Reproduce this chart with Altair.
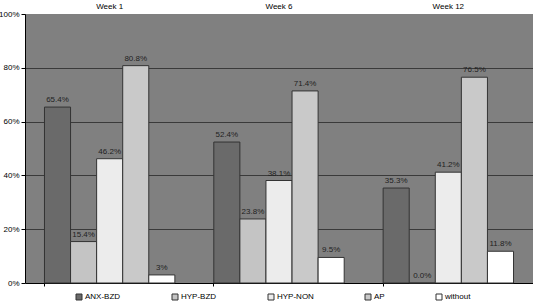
import altair as alt
import pandas as pd

weeks = ["Week 1", "Week 6", "Week 12"]
series = ["ANX-BZD", "HYP-BZD", "HYP-NON", "AP", "without"]
values = {
    "Week 1": [65.4, 15.4, 46.2, 80.8, 3.0],
    "Week 6": [52.4, 23.8, 38.1, 71.4, 9.5],
    "Week 12": [35.3, 0.0, 41.2, 76.5, 11.8],
}
labels = {
    "Week 1": ["65.4%", "15.4%", "46.2%", "80.8%", "3%"],
    "Week 6": ["52.4%", "23.8%", "38.1%", "71.4%", "9.5%"],
    "Week 12": ["35.3%", "0.0%", "41.2%", "76.5%", "11.8%"],
}
colors = ["#6a6a6a", "#c4c4c4", "#ececec", "#c9c9c9", "#ffffff"]

rows = []
for w in weeks:
    for s, v, l in zip(series, values[w], labels[w]):
        rows.append({"week": w, "series": s, "value": v, "label": l})
df = pd.DataFrame(rows)
wk = pd.DataFrame({"week": weeks})

FONT = "Liberation Sans"

x = alt.X("week:N", sort=weeks, title=None,
          scale=alt.Scale(paddingInner=0.23, paddingOuter=0.115),
          axis=alt.Axis(labels=False, domainColor="#000000", tickColor="#000000",
                        tickSize=3, bandPosition=0, grid=False))
xo = alt.XOffset("series:N", sort=series)
y = alt.Y("value:Q", title=None,
          scale=alt.Scale(domain=[0, 100], nice=False),
          axis=alt.Axis(values=[0, 20, 40, 60, 80, 100], labelExpr="datum.value + '%'",
                        grid=True, gridColor="#3a3a3a", gridWidth=1,
                        gridOpacity=alt.condition("datum.value >= 100 || datum.value <= 0",
                                                  alt.value(0), alt.value(1)),
                        domainColor="#000000", tickColor="#000000", tickSize=4,
                        labelFont=FONT, labelFontSize=8, labelColor="#000000",
                        labelPadding=2))

bars = alt.Chart(df).mark_bar(stroke="#333333", strokeWidth=1).encode(
    x=x, xOffset=xo, y=y,
    color=alt.Color("series:N", sort=series,
                    scale=alt.Scale(domain=series, range=colors),
                    legend=alt.Legend(title=None, orient="none", direction="horizontal",
                                      columns=5, legendX=50, legendY=279,
                                      symbolType="square", symbolSize=36,
                                      symbolStrokeColor="#333333", symbolStrokeWidth=1,
                                      labelFont=FONT, labelFontSize=8, labelColor="#000000",
                                      columnPadding=49, labelOffset=2, gridAlign="each")),
)

text = alt.Chart(df).mark_text(baseline="bottom", dy=-3, font=FONT, fontSize=8,
                               color="#222222").encode(
    x=alt.X("week:N", sort=weeks), xOffset=xo, y="value:Q", text="label:N")

tops = alt.Chart(wk).mark_text(baseline="bottom", font=FONT, fontSize=8,
                               color="#000000").encode(
    x=alt.X("week:N", sort=weeks), y=alt.value(-3), text="week:N")

chart = alt.layer(bars, text, tops).properties(
    width=508, height=269,
    autosize=alt.AutoSizeParams(type="none"),
    padding={"left": 25, "top": 14, "right": 0, "bottom": 22},
).configure_view(fill="#808080", stroke=None)

chart.save("out.html", embed_options={"renderer": "svg", "actions": False})
